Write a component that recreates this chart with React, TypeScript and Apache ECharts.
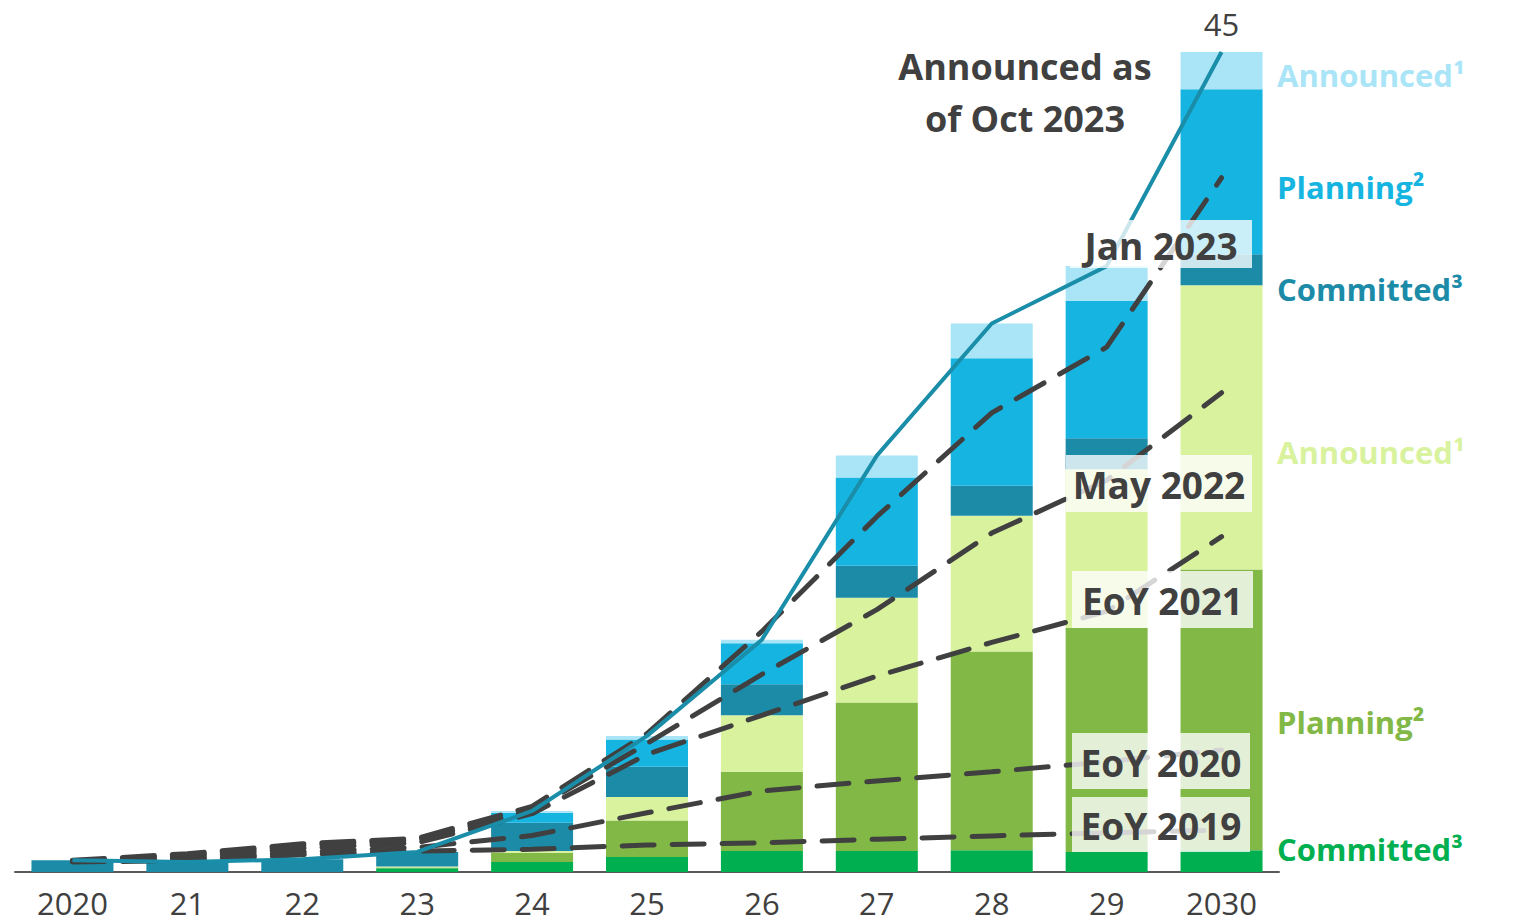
import React, { useEffect, useRef } from "react";
import * as echarts from "echarts";

const years = ["2020", "21", "22", "23", "24", "25", "26", "27", "28", "29", "2030"];

// Stacked bar segments (from bottom to top)
const greenCommitted = [0, 0, 0, 0.2, 0.55, 0.82, 1.15, 1.15, 1.2, 1.1, 1.2];
const greenPlanning = [0, 0, 0, 0.05, 0.5, 2.0, 4.35, 8.15, 10.9, 12.3, 15.4];
const greenAnnounced = [0, 0, 0, 0.05, 0.1, 1.3, 3.1, 5.75, 7.45, 8.7, 15.6];
const tealCommitted = [0.65, 0.55, 0.7, 0.8, 1.55, 1.65, 1.7, 1.75, 1.65, 1.7, 1.7];
const bluePlanning = [0, 0, 0, 0, 0.55, 1.5, 2.25, 4.85, 7.0, 7.55, 9.05];
const blueAnnounced = [0, 0, 0, 0, 0.1, 0.2, 0.2, 1.2, 1.9, 1.9, 2.05];

// Earlier forecasts (dashed lines)
const jan2023 = [0.65, 1.0, 1.55, 1.85, 3.6, 7.6, 13.2, 19.5, 25.2, 28.8, 38.1];
const may2022 = [0.62, 0.92, 1.45, 1.75, 3.4, 7.05, 10.85, 14.4, 18.6, 21.5, 26.3];
const eoy2021 = [0.6, 0.82, 1.3, 1.6, 3.2, 6.45, 8.6, 10.75, 12.6, 14.3, 18.4];
const eoy2020 = [0.58, 0.7, 1.1, 1.35, 2.0, 3.25, 4.45, 5.0, 5.5, 6.05, 6.7];
const eoy2019 = [0.55, 0.62, 0.95, 1.15, 1.25, 1.48, 1.6, 1.8, 1.98, 2.15, 2.3];

const FONT = "'Open Sans', 'Noto Sans', sans-serif";
const DARK = "#404040";

export default function App() {
  const ref = useRef<HTMLDivElement>(null);

  useEffect(() => {
    if (!ref.current) return;
    const chart = echarts.init(ref.current, null, { renderer: "svg" });

    const totals = years.map(
      (_, i) =>
        greenCommitted[i] + greenPlanning[i] + greenAnnounced[i] +
        tealCommitted[i] + bluePlanning[i] + blueAnnounced[i]
    );
    const last = years.length - 1;

    const bar = (name: string, data: any[], color: string) => ({
      name,
      type: "bar",
      stack: "total",
      barWidth: 82,
      data,
      itemStyle: { color },
      z: 2,
    });

    const dashed = (name: string, data: number[]) => ({
      name,
      type: "line",
      data,
      symbol: "none",
      z: 3,
      lineStyle: { color: DARK, width: 5, type: [32, 18], cap: "round" },
    });

    const boxLabel = (text: string, x: number, y: number, w: number, h: number) => ({
      type: "group",
      z: 100,
      children: [
        {
          type: "rect",
          shape: { x, y, width: w, height: h },
          style: { fill: "rgba(255,255,255,0.78)" },
          z: 100,
        },
        {
          type: "text",
          x: x + w / 2,
          y: y + h / 2 + 1,
          z: 101,
          style: {
            text,
            fill: DARK,
            font: `bold 37px ${FONT}`,
            align: "center",
            verticalAlign: "middle",
          },
        },
      ],
    });

    const sideLabel = (text: string, y: number, color: string) => ({
      type: "text",
      x: 1277,
      y,
      z: 100,
      style: {
        text,
        fill: color,
        font: `bold 31px ${FONT}`,
        align: "left",
        verticalAlign: "middle",
      },
    });

    const topData = blueAnnounced.map((v, i) =>
      i === last
        ? {
            value: v,
            label: {
              show: true,
              position: "top",
              distance: 13,
              color: DARK,
              fontSize: 31,
              fontFamily: FONT,
              formatter: () => String(Math.round(totals[last])),
            },
          }
        : v
    );

    chart.setOption({
      animation: false,
      grid: { left: 15, right: 258, top: 52, bottom: 51, containLabel: false },
      xAxis: {
        type: "category",
        data: years,
        axisLine: { lineStyle: { color: "#595959", width: 2 } },
        axisTick: { show: false },
        axisLabel: { color: DARK, fontSize: 31, fontFamily: FONT, margin: 15, interval: 0 },
      },
      yAxis: { type: "value", min: 0, max: 45, show: false },
      series: [
        bar("Committed (green)", greenCommitted, "#00B050"),
        bar("Planning (green)", greenPlanning, "#82B845"),
        bar("Announced (green)", greenAnnounced, "#D8F29E"),
        bar("Committed (blue)", tealCommitted, "#1B8BA8"),
        bar("Planning (blue)", bluePlanning, "#16B5E1"),
        bar("Announced (blue)", topData, "#A9E5F7"),
        dashed("EoY 2019", eoy2019),
        dashed("EoY 2020", eoy2020),
        dashed("EoY 2021", eoy2021),
        dashed("May 2022", may2022),
        dashed("Jan 2023", jan2023),
        {
          name: "Announced as of Oct 2023",
          type: "line",
          symbol: "none",
          z: 4,
          lineStyle: { color: "#1A8DA8", width: 4 },
          data: totals,
        },
      ],
      graphic: [
        {
          type: "text",
          x: 1025,
          y: 92,
          z: 100,
          style: {
            text: "Announced as\nof Oct 2023",
            fill: DARK,
            font: `bold 36px ${FONT}`,
            lineHeight: 52,
            align: "center",
            verticalAlign: "middle",
          },
        },
        boxLabel("Jan 2023", 1070, 220, 182, 48),
        boxLabel("May 2022", 1066, 455, 186, 57),
        boxLabel("EoY 2021", 1072, 571, 181, 57),
        boxLabel("EoY 2020", 1072, 733, 178, 56),
        boxLabel("EoY 2019", 1072, 797, 178, 55),
        sideLabel("Announced¹", 75, "#A9E5F7"),
        sideLabel("Planning²", 187, "#16B5E1"),
        sideLabel("Committed³", 289, "#1B8BA8"),
        sideLabel("Announced¹", 452, "#D8F29E"),
        sideLabel("Planning²", 722, "#82B845"),
        sideLabel("Committed³", 849, "#00B050"),
      ],
    });

    return () => chart.dispose();
  }, []);

  return (
    <div
      ref={ref}
      style={{ position: "fixed", left: 0, top: 0, width: 1537, height: 923, background: "#fff" }}
    />
  );
}
